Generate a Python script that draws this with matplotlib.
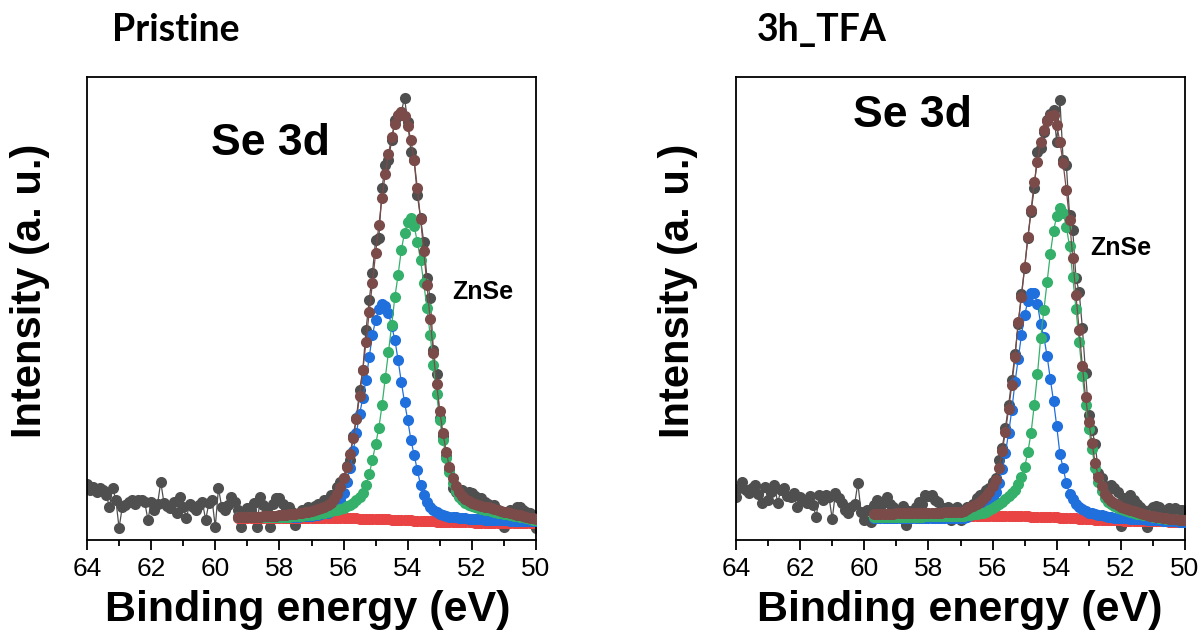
import numpy as np
import matplotlib.pyplot as plt
from matplotlib.ticker import MultipleLocator

# scan grids (eV), 0.1 eV step
raw_energy = np.round(np.arange(64.0, 49.95, -0.1), 1)
fit_energy_pristine = np.round(np.arange(59.3, 49.95, -0.1), 1)
fit_energy_tfa = np.round(np.arange(59.7, 49.95, -0.1), 1)

# ---- Pristine, Se 3d ----
raw_pristine = [
    56, 50, 53, 48, 52, 50, 45, 33, 52, 40,
    12, 33, 35, 38, 40, 36, 40, 40, 38, 20,
    38, 30, 36, 58, 37, 34, 32, 38, 27, 43,
    33, 22, 36, 33, 30, 35, 38, 20, 37, 40,
    13, 52, 33, 30, 35, 43, 38, 30, 13, 28,
    32, 30, 37, 13, 43, 35, 28, 13, 36, 42,
    42, 36, 30, 33, 28, 15, 24, 30, 27, 33,
    32, 34, 36, 30, 40, 36, 45, 42, 53, 58,
    62, 74, 80, 104, 122, 150, 170, 210, 240, 267,
    300, 302, 352, 375, 380, 400, 420, 424, 428, 442,
    418, 388, 380, 345, 322, 298, 262, 242, 190, 166,
    122, 104, 84, 70, 52, 48, 47, 50, 46, 48,
    47, 44, 40, 42, 38, 36, 33, 35, 30, 27,
    13, 28, 30, 24, 33, 33, 30, 28, 27, 25,
    12,
]
envelope_pristine = [
    23, 23, 23, 23, 23, 23.5, 23.5, 23.5, 24, 24,
    24, 24.5, 24.5, 25, 25, 25.5, 26, 26, 26.5, 27,
    27.5, 28, 28.5, 29, 30, 31, 32, 33.5, 35, 37,
    41, 46, 53, 62, 73, 86, 102, 121, 144, 170,
    198, 228, 257, 287, 315, 342, 366, 386, 403, 416,
    425, 428, 424, 414, 400, 380, 352, 321, 289, 255,
    221, 187, 156, 129, 107, 88, 73, 62, 54, 48,
    44, 41, 39, 37.5, 36.5, 35.5, 34.5, 33.5, 33, 32,
    31, 30, 29.5, 28.5, 28, 27, 26.5, 25.5, 25, 24,
    23.5, 22.5, 22, 21.5,
]
se52_pristine = [
    23, 23, 23, 23, 23, 23, 23, 23, 23, 23,
    23, 23.1, 23.1, 23.2, 23.3, 23.4, 23.5, 23.7, 23.9, 24.1,
    24.4, 24.7, 25, 25.4, 25.8, 26.3, 26.8, 27.4, 28, 28.8,
    29.6, 30.5, 31.5, 32.5, 34, 35.5, 37.5, 40, 43, 47,
    55, 66, 80, 96, 112, 135, 162, 188, 215, 243,
    265, 290, 307, 318, 322, 314, 298, 280, 257, 232,
    205, 175, 146, 120, 100, 82, 68, 57, 49, 43.5,
    40, 37, 35, 33.7, 32.6, 31.7, 31, 30.4, 29.8, 29.2,
    28, 27.4, 26.8, 26.2, 25.6, 25, 24.4, 23.8, 23.2, 22.6,
    22, 21.2, 20.4, 19.6,
]
se32_pristine = [
    22.6, 22.6, 22.6, 22.6, 22.6, 22.6, 22.6, 22.6, 22.6, 22.6,
    22.6, 22.6, 22.7, 22.7, 22.8, 22.9, 23.0, 23.1, 23.2, 23.4,
    23.6, 23.8, 24.1, 24.4, 24.8, 25.3, 25.9, 26.6, 27.5, 29,
    31.5, 35, 40, 47, 58, 72, 89, 107, 126, 142,
    160, 183, 205, 220, 231, 236, 234, 227, 214, 200,
    180, 158, 138, 120, 100, 85, 70, 55, 45, 38,
    33, 30, 28, 26.5, 25, 24, 23.5, 23, 22.6, 22.3,
    22, 21.8, 21.5, 21.3, 21.1, 20.9, 20.7, 20.5, 20.3, 20.2,
    20, 19.9, 19.8, 19.7, 19.6, 19.5, 19.3, 19.2, 19.1, 19,
    18.9, 18.8, 18.7, 18.6,
]
bg_pristine = [
    22.5, 22.5, 22.5, 22.5, 22.5, 22.5, 22.5, 22.5, 22.5, 22.5,
    22.5, 22.5, 22.5, 22.5, 22.5, 22.5, 22.5, 22.5, 22.4, 22.4,
    22.4, 22.4, 22.3, 22.3, 22.3, 22.3, 22.2, 22.2, 22.2, 22.1,
    22.1, 22.0, 22.0, 21.9, 21.9, 21.8, 21.7, 21.6, 21.5, 21.4,
    21.3, 21.2, 21.1, 21.0, 20.9, 20.8, 20.7, 20.6, 20.5, 20.4,
    20.3, 20.1, 20.0, 19.8, 19.7, 19.5, 19.4, 19.2, 19.1, 18.9,
    18.8, 18.6, 18.5, 18.4, 18.3, 18.2, 18.1, 18.0, 17.9, 17.8,
    17.7, 17.7, 17.6, 17.6, 17.5, 17.5, 17.4, 17.4, 17.3, 17.3,
    17.3, 17.2, 17.2, 17.2, 17.1, 17.1, 17.1, 17.0, 17.0, 17.0,
    17.0, 16.9, 16.9, 16.9,
]

# ---- 3h_TFA, Se 3d ----
raw_tfa = [
    43, 52, 58, 50, 47, 52, 55, 46, 37, 53,
    40, 48, 55, 37, 50, 52, 44, 43, 47, 33,
    43, 40, 37, 44, 35, 23, 45, 40, 45, 43,
    21, 47, 42, 37, 30, 27, 33, 36, 57, 28,
    20, 30, 18, 35, 40, 33, 38, 43, 36, 33,
    27, 30, 34, 15, 29, 27, 33, 38, 36, 45,
    44, 45, 40, 38, 30, 32, 33, 20, 25, 33,
    20, 30, 33, 30, 36, 42, 45, 46, 50, 52,
    58, 62, 80, 92, 112, 135, 160, 186, 216, 246,
    272, 302, 328, 352, 388, 392, 408, 420, 426, 430,
    398, 440, 380, 375, 325, 310, 262, 248, 212, 167,
    125, 110, 96, 67, 62, 54, 50, 55, 52, 48,
    14, 42, 38, 45, 40, 36, 33, 30, 13, 30,
    33, 34, 33, 28, 30, 32, 30, 32, 30, 30,
    28,
]
envelope_tfa = [
    26.5, 26.5, 26.5, 26.5, 26.5, 26.5, 26.5, 26.6, 26.6, 26.6,
    26.7, 26.7, 26.8, 26.8, 26.9, 27, 27, 27.1, 27.2, 27.3,
    27.4, 27.5, 27.6, 27.7, 27.8, 28, 28.2, 28.5, 29.5, 31,
    33, 34, 36, 38, 41, 44, 48, 54, 60, 72,
    89, 108, 131, 155, 183, 218, 243, 273, 303, 330,
    358, 378, 398, 410, 419, 424, 425, 415, 398, 377,
    350, 320, 282, 245, 210, 174, 143, 118, 97, 77,
    63, 54, 46, 42, 39, 37, 35, 33, 32, 31,
    30, 29, 28, 27, 26, 25, 24.5, 24, 23.5, 23,
    22.5, 22, 21.5, 21, 20.8, 20.5, 20.2, 20,
]
se52_tfa = [
    23.5, 23.5, 23.5, 23.5, 23.5, 23.5, 23.5, 23.5, 23.5, 23.5,
    23.5, 23.5, 23.5, 23.5, 23.5, 23.5, 23.6, 23.6, 23.6, 23.7,
    23.7, 23.8, 23.8, 23.9, 23.9, 24, 24, 24.2, 24.5, 24.8,
    25.2, 25.6, 26, 26.6, 27.5, 28.5, 30, 32, 34, 36,
    38, 41, 44, 47, 50, 56, 63, 73, 88, 107,
    135, 166, 202, 230, 258, 286, 309, 324, 332, 327,
    313, 294, 263, 231, 198, 164, 135, 111, 91, 72,
    58, 49, 42, 38.5, 36, 34, 32.5, 30.6, 29.6, 28.8,
    28, 27.2, 26.5, 25.8, 25.2, 24.6, 24, 23.4, 22.8, 22.3,
    21.9, 21.5, 21.2, 20.9, 20.7, 20.5, 20.3, 20.2,
]
se32_tfa = [
    22, 22, 22, 22, 22, 22, 22, 22, 22, 22,
    22, 22, 22, 22, 22, 22, 22, 22, 22, 22,
    22, 22, 22, 22, 22, 22, 22, 22, 22.5, 23.5,
    25, 27, 28.5, 30, 32, 34.5, 38, 42, 48, 57,
    71, 87, 107, 130, 158, 181, 205, 225, 239, 247,
    247, 236, 216, 203, 184, 161, 139, 114, 86, 72,
    57, 46, 41, 36, 33, 31, 29, 27.5, 26.7, 26,
    25.5, 25, 24.3, 23.5, 23, 22.5, 22.2, 22, 21.8, 21.6,
    21.4, 21.2, 21, 20.8, 20.6, 20.4, 20.2, 20, 19.8, 19.6,
    19.4, 19.2, 19, 18.8, 18.6, 18.4, 18.2, 18,
]
bg_tfa = [
    24.5, 24.5, 24.5, 24.5, 24.5, 24.5, 24.5, 24.5, 24.5, 24.5,
    24.5, 24.5, 24.5, 24.5, 24.5, 24.5, 24.5, 24.5, 24.5, 24.5,
    24.5, 24.5, 24.5, 24.5, 24.5, 24.4, 24.4, 24.4, 24.4, 24.3,
    24.3, 24.3, 24.3, 24.2, 24.2, 24.2, 24.2, 24.1, 24.1, 24.0,
    24.0, 24.0, 23.9, 23.9, 23.9, 23.8, 23.8, 23.7, 23.6, 23.5,
    23.4, 23.3, 23.2, 23.1, 23.0, 22.9, 22.8, 22.7, 22.5, 22.4,
    22.2, 22.0, 21.8, 21.6, 21.4, 21.2, 21.0, 20.8, 20.6, 20.5,
    20.4, 20.3, 20.2, 20.0, 19.9, 19.8, 19.7, 19.6, 19.5, 19.4,
    19.3, 19.2, 19.2, 19.1, 19.0, 18.9, 18.9, 18.8, 18.8, 18.7,
    18.6, 18.6, 18.5, 18.5, 18.4, 18.4, 18.3, 18.3,
]

panel_titles = ["Pristine", "3h_TFA"]
x_ticks = [64, 62, 60, 58, 56, 54, 52, 50]

grey = "#4f4f4f"
brown = "#7a4b49"
green = "#35b06b"
blue = "#1f6fdc"
red = "#e94343"

label_font = ["Liberation Sans", "DejaVu Sans"]

fig = plt.figure(figsize=(12.02, 6.41), dpi=100)
ax1 = fig.add_axes([87 / 1202, 1 - 540 / 641, 449 / 1202, 463 / 641])
ax2 = fig.add_axes([736 / 1202, 1 - 540 / 641, 449 / 1202, 463 / 641])


def draw_panel(ax, raw, fit_e, env, c52, c32, bg):
    kw = dict(marker="o", ms=8, mew=0, lw=0.9)
    ax.plot(raw_energy, raw, color=grey, zorder=1, **kw)
    ax.plot(fit_e, bg, color=red, zorder=2, **kw)
    ax.plot(fit_e, c32, color=blue, zorder=3, **kw)
    ax.plot(fit_e, c52, color=green, zorder=4, **kw)
    ax.plot(fit_e, env, color=brown, zorder=5, **kw)

    ax.set_xlim(64, 50)
    ax.set_ylim(0, 463)
    ax.set_xticks(x_ticks)
    ax.xaxis.set_minor_locator(MultipleLocator(1))
    ax.set_yticks([])
    ax.tick_params(axis="x", which="major", direction="out", length=7, width=1.3, pad=5,
                   labelsize=19)
    ax.tick_params(axis="x", which="minor", direction="out", length=4, width=1.3)
    for lab in ax.get_xticklabels():
        lab.set_family(["Liberation Sans"])
    for s in ax.spines.values():
        s.set_linewidth(1.3)


draw_panel(ax1, raw_pristine, fit_energy_pristine, envelope_pristine,
           se52_pristine, se32_pristine, bg_pristine)
draw_panel(ax2, raw_tfa, fit_energy_tfa, envelope_tfa, se52_tfa, se32_tfa, bg_tfa)

# peak labels
ax1.text(0.408, 0.857, "Se 3d", transform=ax1.transAxes, ha="center", va="center",
         fontsize=32, fontweight="bold", family=label_font)
ax2.text(0.394, 0.916, "Se 3d", transform=ax2.transAxes, ha="center", va="center",
         fontsize=32, fontweight="bold", family=label_font)
ax1.text(0.882, 0.536, "ZnSe", transform=ax1.transAxes, ha="center", va="center",
         fontsize=18, fontweight="bold", family=label_font)
ax2.text(0.857, 0.631, "ZnSe", transform=ax2.transAxes, ha="center", va="center",
         fontsize=18, fontweight="bold", family=label_font)

# axis labels
for xc in [30, 678]:
    fig.text(xc / 1202, 1 - 291 / 641, "Intensity (a. u.)", rotation=90, ha="center",
             va="center", fontsize=30, fontweight="bold", family=label_font)
for xc in [308, 960]:
    fig.text(xc / 1202, 1 - 610 / 641, "Binding energy (eV)", ha="center", va="center",
             fontsize=31, fontweight="bold", family=label_font)

# sample names
fig.text(112 / 1202, 1 - 30 / 641, panel_titles[0], ha="left", va="center",
         fontsize=27, fontweight="bold", family=["Lato", "DejaVu Sans"])
fig.text(757 / 1202, 1 - 30 / 641, panel_titles[1], ha="left", va="center",
         fontsize=27, fontweight="bold", family=["Lato", "DejaVu Sans"])

fig.savefig("out.png", dpi=100)
